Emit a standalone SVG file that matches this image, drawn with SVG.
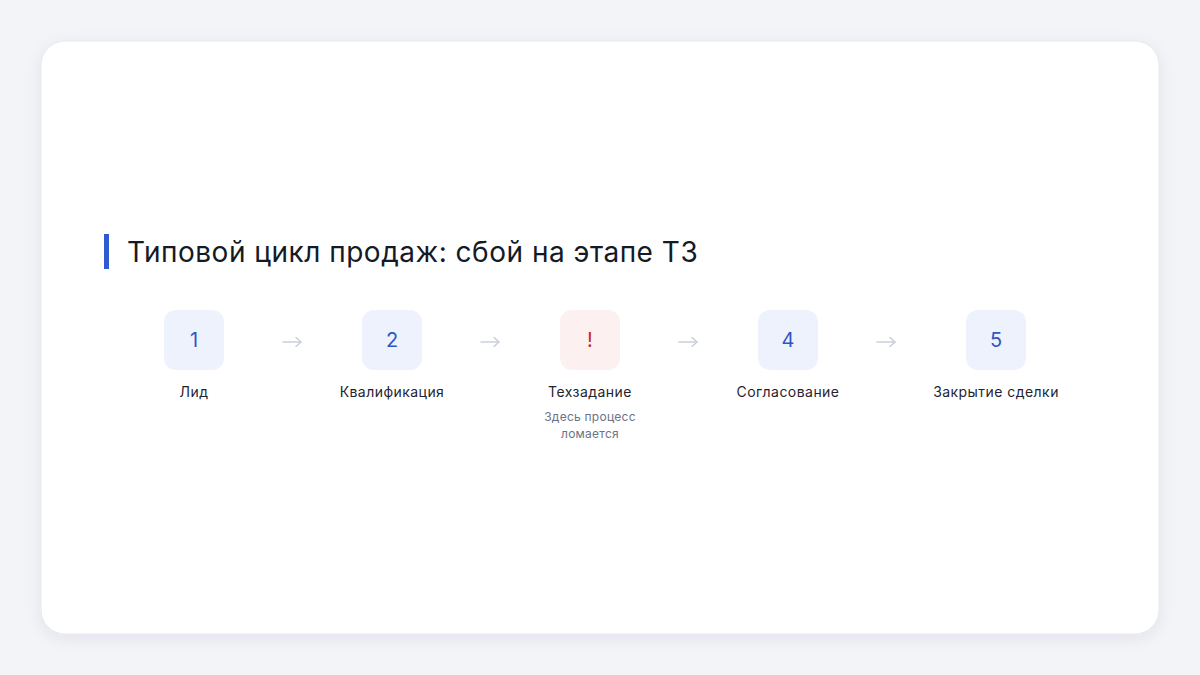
<svg xmlns="http://www.w3.org/2000/svg" width="1200" height="675" viewBox="0 0 1200 675">
<defs>
<filter id="sh" x="-10%" y="-10%" width="120%" height="130%">
<feDropShadow dx="0" dy="4" stdDeviation="8" flood-color="#1a2340" flood-opacity="0.07"/>
</filter>
<marker id="ah" viewBox="0 0 10 10" refX="9" refY="5" markerWidth="10" markerHeight="10" markerUnits="userSpaceOnUse" orient="auto">
<path d="M4 0.5 L9 5 L4 9.5" fill="none" stroke="#c9cfdb" stroke-width="1.5" stroke-linecap="round" stroke-linejoin="round"/>
</marker>
<style>
text{font-family:Inter,"Noto Sans","Liberation Sans",sans-serif}
.box{fill:#eef2fc}
.bad{fill:#fdf0f0}
.num{font-size:20px;fill:#2f57c4;text-anchor:middle}
.ex{font-size:20px;fill:#c62828;text-anchor:middle}
.lbl{font-size:14px;fill:#1f2430;text-anchor:middle;letter-spacing:0.45px}
.sub{font-size:12px;fill:#6b7385;text-anchor:middle;letter-spacing:0.25px}
.con{stroke:#c9cfdb;stroke-width:1.5;fill:none;stroke-linecap:round}
</style>
</defs>
<rect width="1200" height="675" fill="#f3f4f8"/>
<rect x="41" y="41" width="1118" height="593" rx="24" fill="#ffffff" stroke="#e6e8ee" stroke-width="1" filter="url(#sh)"/>
<g id="title">
<rect x="104" y="234" width="5" height="35" fill="#2d5bd0"/>
<text x="127" y="262" font-size="28" fill="#141a26" letter-spacing="0.5">Типовой цикл продаж: сбой на этапе ТЗ</text>
</g>
<g id="connectors">
<line class="con" x1="283" y1="342" x2="301" y2="342" marker-end="url(#ah)"/>
<line class="con" x1="481" y1="342" x2="499" y2="342" marker-end="url(#ah)"/>
<line class="con" x1="679" y1="342" x2="697" y2="342" marker-end="url(#ah)"/>
<line class="con" x1="877" y1="342" x2="895" y2="342" marker-end="url(#ah)"/>
</g>
<g id="step1">
<rect class="box" x="164" y="310" width="60" height="60" rx="12"/>
<text class="num" x="194" y="347">1</text>
<text class="lbl" x="194" y="397">Лид</text>
</g>
<g id="step2">
<rect class="box" x="362" y="310" width="60" height="60" rx="12"/>
<text class="num" x="392" y="347">2</text>
<text class="lbl" x="392" y="397">Квалификация</text>
</g>
<g id="step3">
<rect class="bad" x="560" y="310" width="60" height="60" rx="12"/>
<text class="ex" x="590" y="347">!</text>
<text class="lbl" x="590" y="397">Техзадание</text>
<text class="sub" x="590" y="421">Здесь процесс</text>
<text class="sub" x="590" y="438">ломается</text>
</g>
<g id="step4">
<rect class="box" x="758" y="310" width="60" height="60" rx="12"/>
<text class="num" x="788" y="347">4</text>
<text class="lbl" x="788" y="397">Согласование</text>
</g>
<g id="step5">
<rect class="box" x="966" y="310" width="60" height="60" rx="12"/>
<text class="num" x="996" y="347">5</text>
<text class="lbl" x="996" y="397">Закрытие сделки</text>
</g>
</svg>
